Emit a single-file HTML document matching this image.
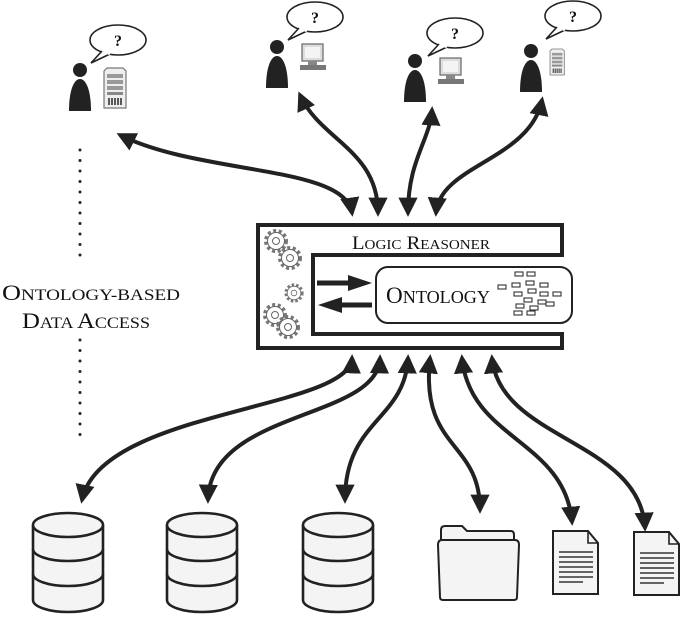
<!DOCTYPE html>
<html><head><meta charset="utf-8"><style>
html,body{margin:0;padding:0;background:#fff;}
svg{display:block;}
text{font-family:"Liberation Serif",serif;fill:#111;}
</style></head><body>
<svg width="685" height="621" viewBox="0 0 685 621" xmlns="http://www.w3.org/2000/svg">
<defs>
<marker id="ah" viewBox="0 0 10 10" refX="8" refY="5" markerWidth="4.8" markerHeight="4.8" orient="auto-start-reverse">
<path d="M0,0 L10,5 L0,10 z" fill="#222"/></marker>
<g id="person"><circle cx="0" cy="0" r="7" fill="#222"/><path d="M-11,41 C-11,20 -6,9 0,9 C6,9 11,20 11,41 z" fill="#222"/></g>
<g id="bubble"><ellipse cx="0" cy="0" rx="28" ry="15" fill="#fff" stroke="#222" stroke-width="1.6"/><path d="M-16,11 L-27,23 L-8,14" fill="#fff" stroke="#222" stroke-width="1.6"/><path d="M-15,10 L-8,14" stroke="#fff" stroke-width="3"/><text x="0" y="6" text-anchor="middle" font-family="Liberation Sans,sans-serif" font-weight="bold" font-size="16">?</text></g>
<g id="comp"><rect x="2" y="0" width="21" height="17" fill="#ddd" stroke="#666" stroke-width="1.2"/><rect x="5" y="3" width="15" height="11" fill="#f4f4f4"/><rect x="8" y="17" width="9" height="4" fill="#888"/><rect x="0" y="21" width="26" height="5" fill="#777"/></g>
<g id="srv"><path d="M0,3 L3,0 L19,0 L22,3 L22,40 L0,40 z" fill="#eee" stroke="#777" stroke-width="1.2"/><rect x="3" y="6" width="16" height="4" fill="#999"/><rect x="3" y="12" width="16" height="4" fill="#999"/><rect x="3" y="18" width="16" height="4" fill="#999"/><rect x="3" y="24" width="16" height="3" fill="#888"/><path d="M5,30 v7 M8,30 v7 M11,30 v7 M14,30 v7 M17,30 v7" stroke="#333" stroke-width="1.6"/></g>
<g id="db"><path d="M-35,0 L-35,75 A35,12 0 0 0 35,75 L35,0" fill="#f4f4f4" stroke="#222" stroke-width="2.6"/><ellipse cx="0" cy="0" rx="35" ry="12" fill="#f4f4f4" stroke="#222" stroke-width="2.6"/><path d="M-35,24 A35,12 0 0 0 35,24 M-35,49 A35,12 0 0 0 35,49" fill="none" stroke="#222" stroke-width="2.6"/></g>
<g id="doc"><path d="M0,0 L35,0 L45,12 L45,63 L0,63 z" fill="#f4f4f4" stroke="#222" stroke-width="2"/><path d="M35,0 L35,12 L45,12" fill="none" stroke="#222" stroke-width="1.6"/><path d="M6,21 h34 M6,26 h34 M6,31 h34 M6,36 h34 M6,41 h34 M6,46 h34 M6,51 h24" stroke="#333" stroke-width="1.6"/></g>
<g id="gear"><circle r="10" fill="none" stroke="#777" stroke-width="4" stroke-dasharray="3 2.5"/><circle r="8.5" fill="#fff" stroke="#666" stroke-width="1"/><circle r="3.5" fill="none" stroke="#666" stroke-width="1"/></g>
</defs>

<use href="#bubble" x="118" y="40"/><use href="#person" x="80" y="70"/><use href="#srv" x="104" y="68"/>
<use href="#bubble" x="315" y="17"/><use href="#person" x="277" y="47"/><use href="#comp" x="300" y="44"/>
<use href="#bubble" x="455" y="33"/><use href="#person" x="415" y="61"/><use href="#comp" x="438" y="58"/>
<use href="#bubble" x="573" y="16"/><use href="#person" x="531" y="51"/><g transform="translate(550,49) scale(0.65)"><use href="#srv"/></g>

<path d="M80,150 L80,262 M80,340 L80,445" stroke="#222" stroke-width="3" stroke-linecap="round" stroke-dasharray="0 10.5"/>
<text x="2" y="300" font-size="22" textLength="178" lengthAdjust="spacingAndGlyphs">O<tspan font-size="16">NTOLOGY-BASED</tspan></text>
<text x="22" y="328" font-size="22" textLength="128" lengthAdjust="spacingAndGlyphs">D<tspan font-size="16">ATA </tspan>A<tspan font-size="16">CCESS</tspan></text>

<g fill="none" stroke="#222" stroke-width="4" marker-start="url(#ah)" marker-end="url(#ah)">
<path d="M352,213 C345,165 200,175 120,135"/>
<path d="M378,213 C378,150 320,140 300,95"/>
<path d="M408,213 C408,160 430,140 432,110"/>
<path d="M436,213 C440,165 530,160 542,100"/>
<path d="M352,358 C350,410 100,410 82,500"/>
<path d="M380,358 C378,420 210,410 208,500"/>
<path d="M408,358 C405,420 345,420 345,500"/>
<path d="M430,358 C420,450 480,440 480,510"/>
<path d="M462,358 C470,440 565,440 572,522"/>
<path d="M492,358 C500,440 640,440 645,528"/>
</g>

<path d="M258,225 L562,225 L562,255 L313,255 L313,334 L562,334 L562,348 L258,348 z" fill="#fff" stroke="#222" stroke-width="4" stroke-linejoin="miter"/>
<text x="352" y="249" font-size="19" textLength="138" lengthAdjust="spacingAndGlyphs">L<tspan font-size="14">OGIC</tspan> R<tspan font-size="14">EASONER</tspan></text>
<use href="#gear" x="276" y="241"/><use href="#gear" x="290" y="258"/>
<g transform="translate(294,293) scale(0.8)"><use href="#gear"/></g>
<use href="#gear" x="275" y="315"/><use href="#gear" x="288" y="327"/>
<rect x="376" y="267" width="196" height="56" rx="12" fill="#fff" stroke="#222" stroke-width="2"/>
<text x="386" y="303" font-size="23" textLength="104" lengthAdjust="spacingAndGlyphs">O<tspan font-size="18">NTOLOGY</tspan></text>
<g fill="#fff" stroke="#333" stroke-width="1.1">
<rect x="515" y="272" width="8" height="4"/><rect x="527" y="272" width="8" height="4"/><rect x="498" y="285" width="8" height="4"/><rect x="512" y="283" width="8" height="4"/><rect x="526" y="281" width="8" height="4"/><rect x="540" y="283" width="8" height="4"/><rect x="528" y="289" width="8" height="4"/><rect x="514" y="292" width="8" height="4"/><rect x="540" y="292" width="8" height="4"/><rect x="553" y="292" width="8" height="4"/><rect x="524" y="298" width="8" height="4"/><rect x="538" y="300" width="8" height="4"/><rect x="516" y="304" width="8" height="4"/><rect x="530" y="306" width="8" height="4"/><rect x="546" y="302" width="8" height="4"/><rect x="514" y="311" width="8" height="4"/><rect x="527" y="311" width="8" height="4"/>
</g>
<path d="M317,283 L350,283" stroke="#222" stroke-width="5"/><path d="M348,275 L372,283 L348,291 z" fill="#222"/>
<path d="M372,305 L340,305" stroke="#222" stroke-width="5"/><path d="M342,297 L318,305 L342,313 z" fill="#222"/>

<use href="#db" x="68" y="525"/><use href="#db" x="202" y="525"/><use href="#db" x="338" y="525"/>
<path d="M441,552 L441,530 Q441,526 445,526 L462,526 L467,531 L511,531 Q514,531 514,535 L514,545" fill="#f4f4f4" stroke="#222" stroke-width="2"/>
<path d="M438,545 Q438,540 442,540 L515,540 Q519,540 519,545 L517,597 Q517,600 514,600 L443,600 Q440,600 440,597 z" fill="#f4f4f4" stroke="#222" stroke-width="2"/>
<use href="#doc" x="553" y="531"/><use href="#doc" x="634" y="532"/>
</svg>
</body></html>
